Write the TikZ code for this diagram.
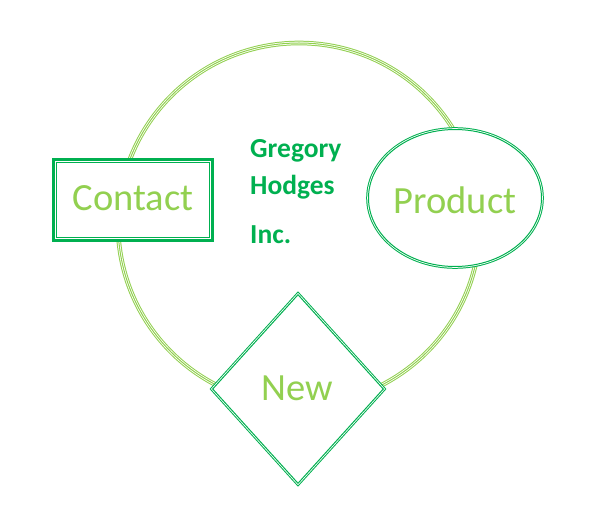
\documentclass[tikz,border=0pt]{standalone}
\usepackage{fontspec}
\setmainfont{Carlito}
\usetikzlibrary{shapes.geometric}
\definecolor{dkgreen}{HTML}{00B050}
\definecolor{ltgreen}{HTML}{92D050}
\tikzset{
  triple/.style={preaction={draw=#1, line width=4.6bp},
                 preaction={draw=white, line width=2.6bp},
                 draw=#1, line width=1bp},
  biglabel/.style={text=ltgreen, font=\fontsize{38.5bp}{41bp}\selectfont, inner sep=0pt, anchor=base},
  cotext/.style={text=dkgreen, font=\fontsize{27.5bp}{30bp}\selectfont\bfseries, inner sep=0pt, anchor=base west},
}
\begin{document}
\begin{tikzpicture}[x=1bp,y=-1bp]
\useasboundingbox[fill=white] (0,0) rectangle (591,505);
% big circle
\node (ring) [circle, minimum size=362bp, inner sep=0pt, triple=ltgreen] at (299,224) {};
% Contact box
\node (contact) [rectangle, draw=dkgreen, line width=3bp, fill=white, minimum width=159bp, minimum height=81bp, inner sep=0pt] at (133,200) {};
\draw[dkgreen, line width=1.3bp] ([shift={(4.5bp,4.5bp)}]contact.south west) rectangle ([shift={(-4.5bp,-4.5bp)}]contact.north east);
\node (contacttext) [biglabel] at (133,211) {Contact};
% Product ellipse
\node (product) [ellipse, fill=white, minimum width=173bp, minimum height=137bp, inner sep=0pt, triple=dkgreen] at (455,198) {};
\node (producttext) [biglabel] at (455,214) {Product};
% New diamond
\node (new) [diamond, fill=white, minimum width=171bp, minimum height=189bp, inner sep=0pt, triple=dkgreen] at (298,389) {};
\node (newtext) [biglabel] at (297,400) {New};
% company name
\node (l1) [cotext] at (250,158) {Gregory};
\node (l2) [cotext] at (250,195) {Hodges};
\node (l3) [cotext] at (250,243) {Inc.};
\end{tikzpicture}
\end{document}
